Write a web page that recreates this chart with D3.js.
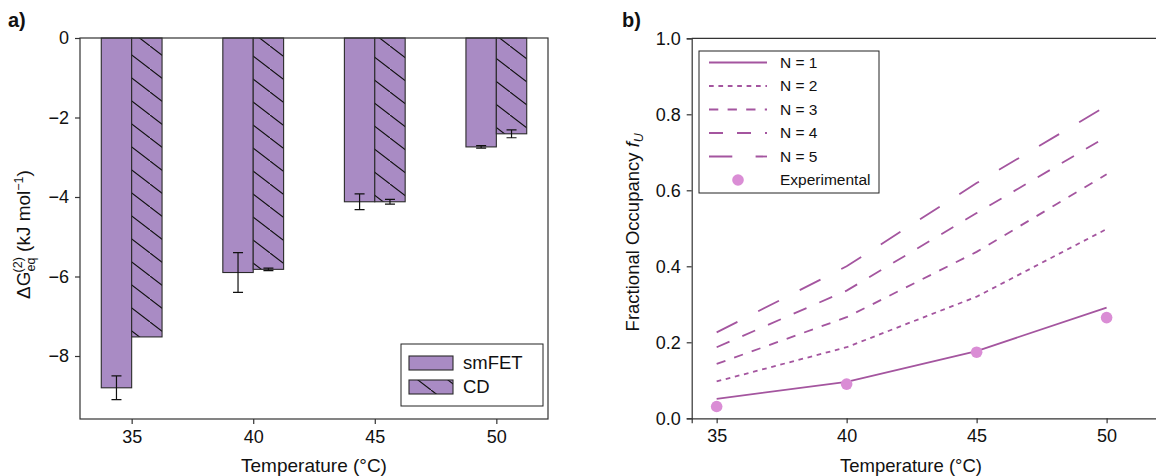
<!DOCTYPE html>
<html>
<head>
<meta charset="utf-8">
<script src="https://cdn.jsdelivr.net/npm/d3@7"></script>
<style>
  body { margin: 0; background: #fff; }
  svg { display: block; font-family: "Liberation Sans", Arial, sans-serif; }
  .axis text { font-size: 18px; fill: #111; }
  .axis path, .axis line { stroke: #333; stroke-width: 1.2; }
</style>
</head>
<body>
<svg id="chart" width="1156" height="476"></svg>
<script>
// panel a) data
const temps = [35, 40, 45, 50];
const smfetDG = [-8.8, -5.9, -4.12, -2.74];
const smfetErr = [0.3, 0.5, 0.2, 0.03];
const cdDG = [-7.52, -5.82, -4.12, -2.41];
const cdErr = [0.0, 0.03, 0.06, 0.1];
const dgTicks = [0, -2, -4, -6, -8];

// panel b) data
const occN1 = [0.051, 0.096, 0.177, 0.291];
const occN2 = [0.097, 0.187, 0.32, 0.498];
const occN3 = [0.143, 0.266, 0.438, 0.642];
const occN4 = [0.187, 0.336, 0.54, 0.741];
const occN5 = [0.226, 0.40, 0.619, 0.822];
const expFU = [0.031, 0.090, 0.174, 0.265];
const seriesNames = ["N = 1", "N = 2", "N = 3", "N = 4", "N = 5"];
const fuTicks = [0, 0.2, 0.4, 0.6, 0.8, 1.0];

const barColor = "#a98bc4";
const lineColor = "#a4559f";
const dotColor = "#da8dd5";
const dashes = [null, "4.7,4.7", "9.3,9.3", "14,14", "23.3,23.3"];

const svg = d3.select("#chart");

// hatch pattern for CD bars
const defs = svg.append("defs");
const hatch = defs.append("pattern")
  .attr("id", "hatch")
  .attr("patternUnits", "userSpaceOnUse")
  .attr("width", 30).attr("height", 23);
hatch.append("rect").attr("width", 30).attr("height", 23).attr("fill", barColor);
hatch.append("path")
  .attr("d", "M-3,-2.3L33,25.3M-33,-25.3L3,2.3M27,20.7L63,48.3")
  .attr("stroke", "#111").attr("stroke-width", 1.1);

// ---------- panel a ----------
const ax = { left: 80, right: 548, top: 38, bottom: 419 };
const xA = d3.scaleLinear().domain([32.875, 52.125]).range([ax.left, ax.right]);
const yA = d3.scaleLinear().domain([-9.585, 0]).range([ax.bottom, ax.top]);
const barW = 1.25;

const gA = svg.append("g");

gA.selectAll(".bar-sm").data(temps).enter().append("rect")
  .attr("class", "bar-sm")
  .attr("x", d => xA(d - barW))
  .attr("y", yA(0))
  .attr("width", xA(barW) - xA(0))
  .attr("height", (d, i) => yA(smfetDG[i]) - yA(0))
  .attr("fill", barColor).attr("stroke", "#2a2a2a").attr("stroke-width", 1.1);

gA.selectAll(".bar-cd").data(temps).enter().append("rect")
  .attr("class", "bar-cd")
  .attr("x", d => xA(d))
  .attr("y", yA(0))
  .attr("width", xA(barW) - xA(0))
  .attr("height", (d, i) => yA(cdDG[i]) - yA(0))
  .attr("fill", "url(#hatch)").attr("stroke", "#2a2a2a").attr("stroke-width", 1.1);

// error bars
function errBars(vals, errs, off) {
  temps.forEach((t, i) => {
    if (!errs[i]) return;
    const cx = xA(t + off);
    const y1 = yA(vals[i] + errs[i]), y2 = yA(vals[i] - errs[i]);
    gA.append("path")
      .attr("d", `M${cx},${y1}V${y2}M${cx - 5},${y1}H${cx + 5}M${cx - 5},${y2}H${cx + 5}`)
      .attr("stroke", "#111").attr("stroke-width", 1.2).attr("fill", "none");
  });
}
errBars(smfetDG, smfetErr, -barW / 2);
errBars(cdDG, cdErr, barW / 2);

// axes
gA.append("g").attr("class", "axis")
  .attr("transform", `translate(0,${ax.bottom})`)
  .call(d3.axisBottom(xA).tickValues(temps).tickSize(5).tickPadding(6))
  .call(g => g.select(".domain").remove());
gA.append("g").attr("class", "axis")
  .attr("transform", `translate(${ax.left},0)`)
  .call(d3.axisLeft(yA).tickValues(dgTicks).tickSize(5).tickPadding(6))
  .call(g => g.select(".domain").remove());
gA.append("rect")
  .attr("x", ax.left).attr("y", ax.top)
  .attr("width", ax.right - ax.left).attr("height", ax.bottom - ax.top)
  .attr("fill", "none").attr("stroke", "#333").attr("stroke-width", 1.2);

// legend a
const legA = gA.append("g").attr("transform", "translate(401,344)");
legA.append("rect").attr("width", 142).attr("height", 62)
  .attr("fill", "#fff").attr("stroke", "#222").attr("stroke-width", 1);
[["smFET", barColor], ["CD", "url(#hatch)"]].forEach((d, i) => {
  legA.append("rect").attr("x", 8).attr("y", 12 + i * 24)
    .attr("width", 44).attr("height", 14)
    .attr("fill", d[1]).attr("stroke", "#2a2a2a").attr("stroke-width", 1.1);
  legA.append("text").attr("x", 62).attr("y", 19 + i * 24).attr("dy", "0.35em")
    .attr("font-size", 18.5).attr("fill", "#111").text(d[0]);
});

// labels a
gA.append("text").attr("x", (ax.left + ax.right) / 2).attr("y", 472)
  .attr("text-anchor", "middle").attr("font-size", 19).attr("fill", "#111")
  .text("Temperature (°C)");
const ylA = gA.append("text")
  .attr("transform", `translate(30,${(ax.top + ax.bottom) / 2 + 6}) rotate(-90)`)
  .attr("text-anchor", "middle").attr("font-size", 19).attr("fill", "#111");
ylA.append("tspan").text("ΔG");
ylA.append("tspan").attr("font-size", 12.5).attr("dy", 5).text("eq");
ylA.append("tspan").attr("font-size", 12.5).attr("dx", -15).attr("dy", -13).text("(2)");
ylA.append("tspan").attr("dy", 8).text(" (kJ mol");
ylA.append("tspan").attr("font-size", 12.5).attr("dy", -7).text("−1");
ylA.append("tspan").attr("dy", 7).text(")");
svg.append("text").attr("x", 8).attr("y", 27).attr("font-size", 20)
  .attr("font-weight", "bold").attr("fill", "#111").text("a)");

// ---------- panel b ----------
const bx = { left: 691.7, right: 1158.6, top: 38.3, bottom: 418.3 };
const xB = d3.scaleLinear().domain([34.04, 52]).range([bx.left, bx.right]);
const yB = d3.scaleLinear().domain([0, 1]).range([bx.bottom, bx.top]);
const gB = svg.append("g");

const line = d3.line().x((d, i) => xB(temps[i])).y(d => yB(d));
[occN1, occN2, occN3, occN4, occN5].forEach((s, k) => {
  gB.append("path").datum(s)
    .attr("d", line)
    .attr("fill", "none").attr("stroke", lineColor).attr("stroke-width", 1.8)
    .attr("stroke-dasharray", dashes[k]);
});

gB.selectAll(".dot").data(expFU).enter().append("circle")
  .attr("cx", (d, i) => xB(temps[i])).attr("cy", d => yB(d))
  .attr("r", 5.8).attr("fill", dotColor);

gB.append("g").attr("class", "axis")
  .attr("transform", `translate(0,${bx.bottom})`)
  .call(d3.axisBottom(xB).tickValues(temps).tickSize(5).tickPadding(6));
gB.append("g").attr("class", "axis")
  .attr("transform", `translate(${bx.left},0)`)
  .call(d3.axisLeft(yB).tickValues(fuTicks).tickFormat(d3.format(".1f")).tickSize(5).tickPadding(6));
gB.append("line")
  .attr("x1", bx.left).attr("x2", bx.right).attr("y1", bx.top).attr("y2", bx.top)
  .attr("stroke", "#333").attr("stroke-width", 1.2);

// legend b
const legB = gB.append("g").attr("transform", "translate(699,51)");
legB.append("rect").attr("width", 180).attr("height", 142)
  .attr("fill", "#fff").attr("stroke", "#222").attr("stroke-width", 1);
seriesNames.forEach((name, k) => {
  const yy = 11.5 + k * 23.5;
  legB.append("line").attr("x1", 10).attr("x2", 68).attr("y1", yy).attr("y2", yy)
    .attr("stroke", lineColor).attr("stroke-width", 1.8)
    .attr("stroke-dasharray", dashes[k]);
  legB.append("text").attr("x", 81).attr("y", yy).attr("dy", "0.35em")
    .attr("font-size", 15.5).attr("fill", "#111").text(name);
});
legB.append("circle").attr("cx", 39).attr("cy", 11.5 + 5 * 23.5).attr("r", 5.8).attr("fill", dotColor);
legB.append("text").attr("x", 81).attr("y", 11.5 + 5 * 23.5).attr("dy", "0.35em")
  .attr("font-size", 15.5).attr("fill", "#111").text("Experimental");

// labels b
gB.append("text").attr("x", 911).attr("y", 472)
  .attr("text-anchor", "middle").attr("font-size", 18.5).attr("fill", "#111")
  .text("Temperature (°C)");
const ylB = gB.append("text")
  .attr("transform", `translate(639,${(bx.top + bx.bottom) / 2 + 4}) rotate(-90)`)
  .attr("text-anchor", "middle").attr("font-size", 18.5).attr("fill", "#111");
ylB.append("tspan").text("Fractional Occupancy ");
ylB.append("tspan").attr("font-style", "italic").text("f");
ylB.append("tspan").attr("font-style", "italic").attr("font-size", 12.5).attr("dy", 4).text("U");
svg.append("text").attr("x", 622).attr("y", 27).attr("font-size", 20)
  .attr("font-weight", "bold").attr("fill", "#111").text("b)");
</script>
</body>
</html>
